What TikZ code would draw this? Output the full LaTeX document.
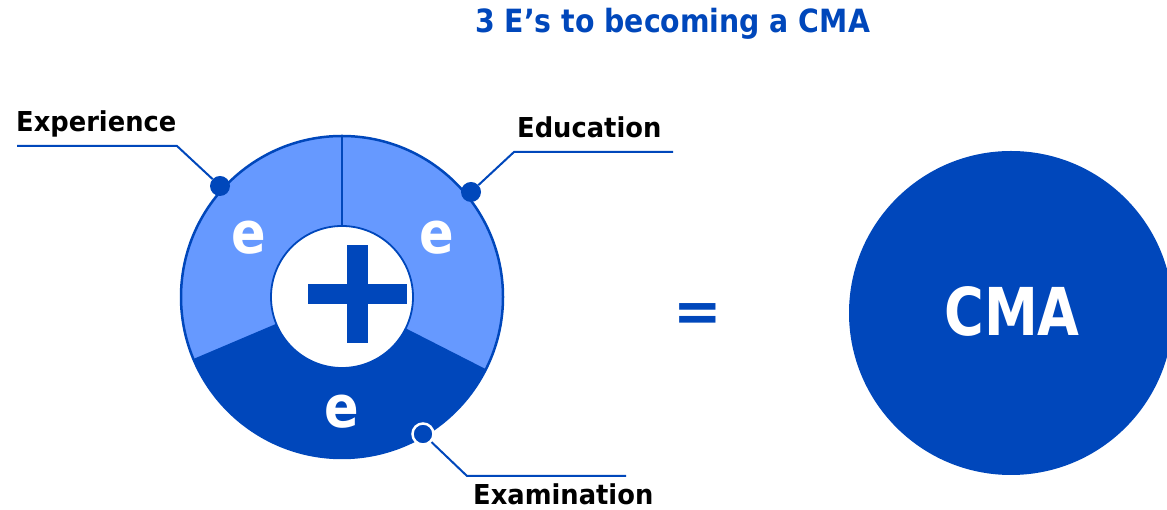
\documentclass[tikz,border=0pt]{standalone}
\usepackage{fontspec}
\setmainfont{DejaVu Sans}
\usetikzlibrary{calc}
\definecolor{cmadark}{RGB}{0,71,187}
\definecolor{cmalight}{RGB}{102,153,255}
\def\ringpart[#1](#2)(#3:#4){\fill[#1] (#2) -- ($(#2)+(#3:161)$) arc (#3:#4:161) -- cycle;}
\tikzset{
	lbl/.style={font=\fontsize{27.4}{30}\selectfont\bfseries, inner sep=0pt, anchor=base west, xscale=.94, transform shape},
	heading/.style={font=\fontsize{32}{36}\selectfont\bfseries, text=cmadark, inner sep=0pt, anchor=base west, xscale=.886, transform shape},
	eletter/.style={font=\fontsize{58}{60}\selectfont\bfseries, text=white, inner sep=0pt, xscale=.88, transform shape},
	dot/.style={circle, fill=cmadark, minimum size=20pt, inner sep=0pt},
	leader/.style={draw=cmadark, line width=2pt}
}

\begin{document}
\begin{tikzpicture}[x=1pt,y=1pt]
		%%%%% START %%%%%
		\useasboundingbox (0,0) rectangle (1167,510);
		\clip (0,0) rectangle (1167,510);
		
		\node[heading] (title) at (475,477) {3 E’s to becoming a CMA};
		
		\coordinate (ring) at (342,213);
		\ringpart[cmalight](ring)(90:203)
		\ringpart[cmadark](ring)(203:333)
		\ringpart[cmalight](ring)(333:450)
		\foreach \a in {90,203,333}
			\draw[cmadark, line width=2pt] ($(ring)+(\a:71)$) -- ($(ring)+(\a:161)$);
		\draw[cmadark, line width=2.5pt] (ring) circle (161);
		\draw[cmadark, line width=1.8pt, fill=white] (ring) circle (71);
		
		\fill[cmadark] (346.5,167) rectangle (367.5,265);
		\fill[cmadark] (307.5,206) rectangle (406.5,226);
		
		\node[eletter] (eexp) at (249,272) {e};
		\node[eletter] (eedu) at (437,272) {e};
		\node[eletter] (eexam) at (342,98) {e};
		
		\node[dot] (expdot) at (220,324) {};
		\node[dot] (edudot) at (471,318) {};
		\node[dot, draw=white, line width=2.5pt, minimum size=21pt] (examdot) at (423,76) {};
		
		\coordinate (expbend) at (177,364);
		\coordinate (expend) at (17,364);
		\coordinate (edubend) at (514,358);
		\coordinate (eduend) at (673,358);
		\coordinate (exambend) at (467,34);
		\coordinate (examend) at (626,34);
		\draw[leader] (expdot) -- (expbend) -- (expend);
		\draw[leader] (edudot) -- (edubend) -- (eduend);
		\draw[leader] (examdot) -- (exambend) -- (examend);
		
		\node[lbl] (experience) at (16,378) {Experience};
		\node[lbl] (education) at (517,372) {Education};
		\node[lbl] (examination) at (473,5) {Examination};
		
		\node[font=\fontsize{58}{60}\selectfont\bfseries, text=cmadark, inner sep=0pt] (equals) at (698,192) {=};
		
		\fill[cmadark] (1011,197) circle (162);
		\node[font=\fontsize{66}{70}\selectfont\bfseries, text=white, inner sep=0pt, xscale=.82, transform shape] (cma) at (1012,199) {CMA};
		
		%%%%% END %%%%%
\end{tikzpicture}
\end{document}
